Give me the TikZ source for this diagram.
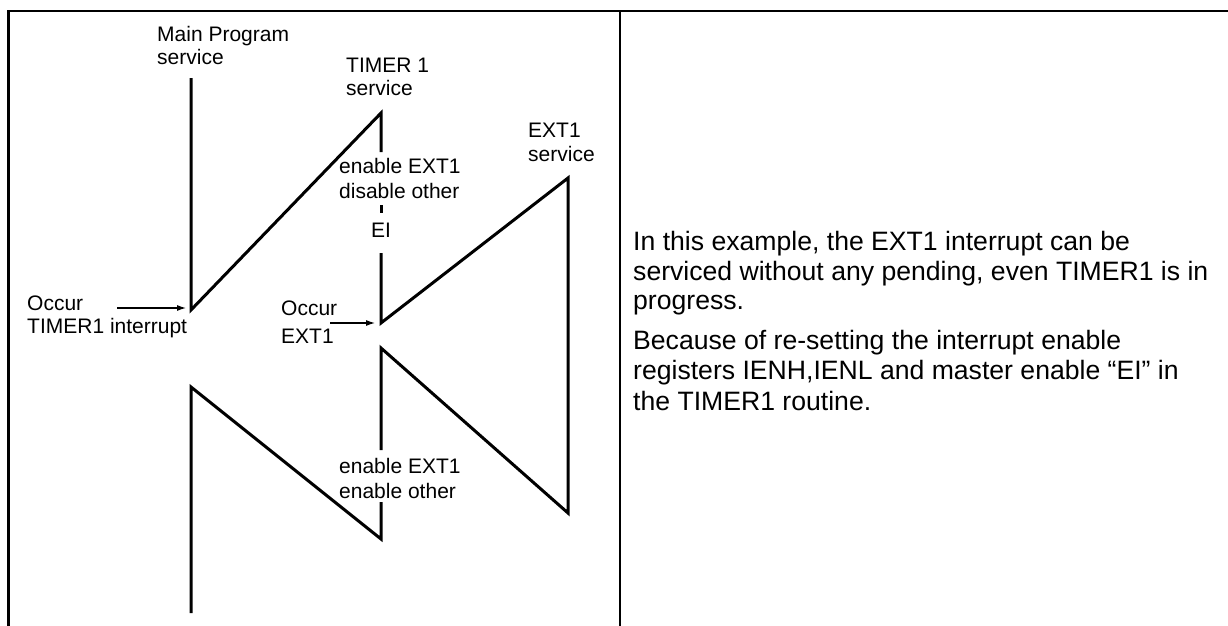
\documentclass[tikz,border=0pt]{standalone}
\usepackage{fontspec}
\setmainfont{Liberation Sans}
\usetikzlibrary{arrows.meta}
\begin{document}
\begin{tikzpicture}[x=1pt,y=-1pt,
  frame/.style={line width=2.8pt},
  flow/.style={line width=3pt,line join=miter},
  ptr/.style={line width=1.1pt,-{Latex[length=9pt,width=6pt]}},
  lbl/.style={anchor=base west,inner sep=0pt,font=\fontsize{21}{24}\selectfont},
  txt/.style={anchor=base west,inner sep=0pt,font=\fontsize{26.6}{30}\selectfont}]
\useasboundingbox (0,0) rectangle (1228,626);
% table frame
\coordinate (tl) at (8.5,11);
\coordinate (tr) at (1228,11);
\coordinate (bl) at (8.5,626);
\coordinate (dt) at (620,11);
\coordinate (db) at (620,626);
\draw[frame] (bl) -- (tl) -- (tr);
\draw[frame] (dt) -- (db);
% flow coordinates
\coordinate (m1) at (191,78);
\coordinate (m2) at (191,310);
\coordinate (t1) at (381,113);
\coordinate (t2) at (381,152);
\coordinate (d1) at (381,205);
\coordinate (d2) at (381,213);
\coordinate (t3) at (381,253);
\coordinate (t4) at (381,323);
\coordinate (e1) at (568,178);
\coordinate (e2) at (568,513);
\coordinate (t5) at (381,348);
\coordinate (t6) at (381,450);
\coordinate (t7) at (381,502);
\coordinate (t8) at (381,539);
\coordinate (m3) at (191,387);
\coordinate (m4) at (191,613);
\draw[flow] (m1) -- (m2) -- (t1) -- (t2);
\draw[flow] (d1) -- (d2);
\draw[flow] (t3) -- (t4) -- (e1) -- (e2) -- (t5) -- (t6);
\draw[flow] (t7) -- (t8) -- (m3) -- (m4);
% arrows
\coordinate (a1) at (117,308);
\coordinate (a2) at (186,308);
\coordinate (b1) at (330,323);
\coordinate (b2) at (375,323);
\draw[ptr] (a1) -- (a2);
\draw[ptr] (b1) -- (b2);
% labels
\node[lbl] (mp1) at (157,42) {Main Program};
\node[lbl] (mp2) at (157,65) {service};
\node[lbl] (ts1) at (346,72) {TIMER 1};
\node[lbl] (ts2) at (346,95) {service};
\node[lbl] (es1) at (528,137) {EXT1};
\node[lbl] (es2) at (528,161) {service};
\node[lbl] (en1) at (339,173) {enable EXT1};
\node[lbl] (en2) at (339,198) {disable other};
\node[lbl,anchor=base] (ei) at (381,237) {EI};
\node[lbl] (oc1) at (27,310) {Occur};
\node[lbl] (oc2) at (27,333) {TIMER1 interrupt};
\node[lbl] (oe1) at (281,315) {Occur};
\node[lbl] (oe2) at (281,343) {EXT1};
\node[lbl] (ee1) at (339,473) {enable EXT1};
\node[lbl] (ee2) at (339,498) {enable other};
% right text
\node[txt] (r1) at (633,250) {In this example, the EXT1 interrupt can be};
\node[txt] (r2) at (633,280) {serviced without any pending, even TIMER1 is in};
\node[txt] (r3) at (633,309) {progress.};
\node[txt] (r4) at (633,349) {Because of re-setting the interrupt enable};
\node[txt] (r5) at (633,379) {registers IENH,IENL and master enable “EI” in};
\node[txt] (r6) at (633,410) {the TIMER1 routine.};
\end{tikzpicture}
\end{document}
